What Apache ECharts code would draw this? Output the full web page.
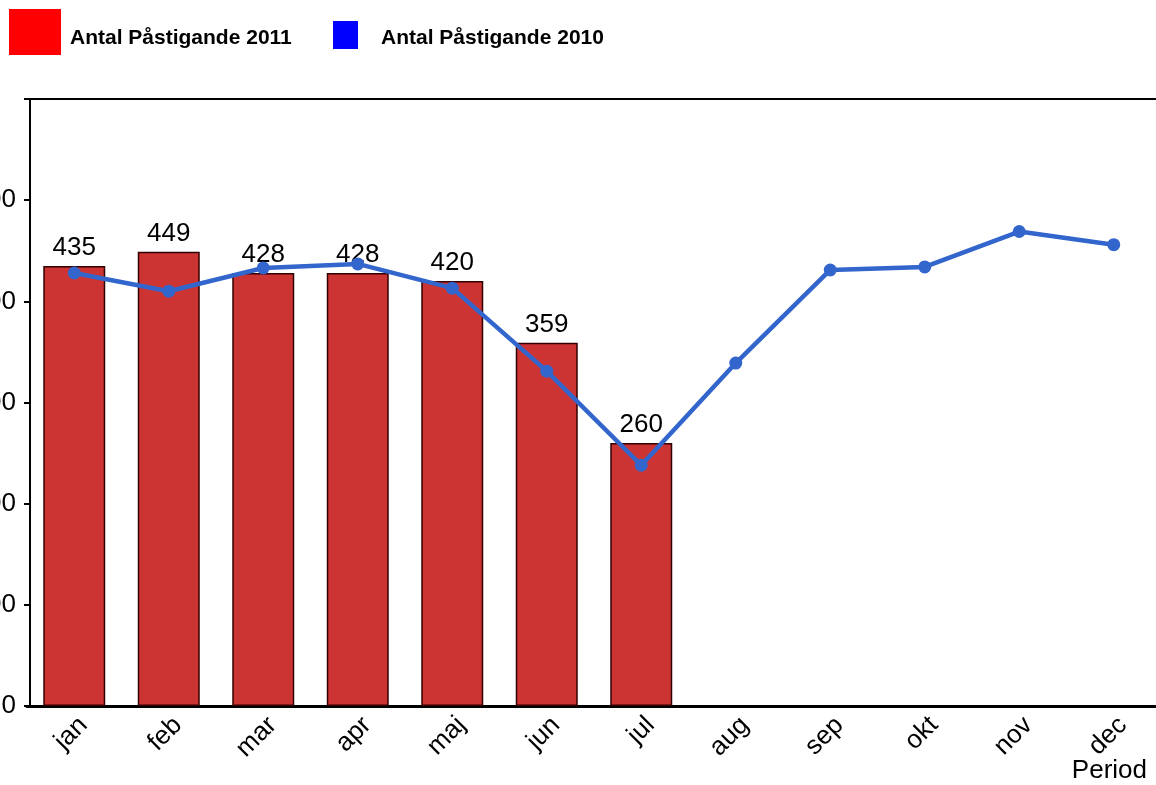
<!DOCTYPE html>
<html>
<head>
<meta charset="utf-8">
<title>Antal Påstigande</title>
<script src="https://cdn.jsdelivr.net/npm/echarts@6/dist/echarts.min.js"></script>
<style>
  html, body { margin: 0; padding: 0; background: #fff; }
  #chart { width: 1156px; height: 785px; }
</style>
</head>
<body>
<div id="chart"></div>
<script>
// månader
const months = ['jan', 'feb', 'mar', 'apr', 'maj', 'jun', 'jul', 'aug', 'sep', 'okt', 'nov', 'dec']
// påstigande 2011 (staplar, bara jan-jul)
const pass2011 = [435, 449, 428, 428, 420, 359, 260]
// påstigande 2010 (linje)
const pass2010 = [428, 410, 433, 437, 413, 331, 238, 339, 431, 434, 469, 456]
// y-axelns skala
const yMin = 0
const yMax = 600
const yStep = 100

const font = 'Liberation Sans, Arial, sans-serif'
const chart = echarts.init(document.getElementById('chart'))

const option = {
  animation: false,
  textStyle: { fontFamily: font },
  legend: [
    {
      data: ['Antal Påstigande 2011'],
      left: 9,
      top: 9,
      padding: 0,
      icon: 'rect',
      itemWidth: 52,
      itemHeight: 46,
      itemStyle: { color: '#FF0000', borderWidth: 0 },
      formatter: '{t|{name}}',
      textStyle: {
        rich: {
          t: { fontSize: 21, fontWeight: 'bold', color: '#000', fontFamily: font, padding: [12, 0, 0, 4] }
        }
      }
    },
    {
      data: ['Antal Påstigande 2010'],
      left: 333,
      top: 21,
      padding: 0,
      icon: 'rect',
      itemWidth: 25,
      itemHeight: 28,
      itemStyle: { color: '#0000FF', borderWidth: 0 },
      lineStyle: { opacity: 0 },
      formatter: '{t|{name}}',
      textStyle: {
        rich: {
          t: { fontSize: 21, fontWeight: 'bold', color: '#000', fontFamily: font, padding: [6, 0, 0, 18] }
        }
      }
    }
  ],
  grid: {
    left: 27,
    top: 99,
    width: 1134,
    bottom: 79,
    containLabel: false,
    outerBoundsMode: 'none'
  },
  xAxis: [
    {
      type: 'category',
      data: months,
      position: 'bottom',
      name: 'Period',
      nameLocation: 'end',
      nameGap: -14,
      nameMoveOverlap: false,
      nameTextStyle: {
        fontSize: 26,
        color: '#000',
        fontFamily: font,
        align: 'right',
        verticalAlign: 'top',
        padding: [52, 0, 0, 0]
      },
      axisLine: { show: true, lineStyle: { color: '#000', width: 3 } },
      axisTick: { show: false },
      axisLabel: {
        interval: 0,
        rotate: 45,
        margin: 6,
        verticalAlign: 'top',
        fontSize: 26,
        color: '#000',
        fontFamily: font
      }
    },
    {
      type: 'category',
      data: months,
      position: 'top',
      axisLine: { show: true, lineStyle: { color: '#000', width: 2 } },
      axisTick: { show: false },
      axisLabel: { show: false }
    }
  ],
  yAxis: {
    type: 'value',
    min: yMin,
    max: yMax,
    interval: yStep,
    offset: -3,
    splitLine: { show: false },
    axisLine: { show: true, lineStyle: { color: '#000', width: 2 } },
    axisTick: { show: true, length: 6, lineStyle: { color: '#000', width: 2 } },
    axisLabel: {
      margin: 14,
      fontSize: 26,
      color: '#000',
      fontFamily: font,
      formatter: function (v) { return v === yMax ? '' : v }
    }
  },
  series: [
    {
      name: 'Antal Påstigande 2011',
      type: 'bar',
      data: pass2011,
      barWidth: 62,
      itemStyle: { color: '#CC3333', borderColor: '#330000', borderWidth: 1.5 },
      label: {
        show: true,
        position: 'top',
        distance: 5,
        fontSize: 26,
        color: '#000',
        fontFamily: font
      }
    },
    {
      name: 'Antal Påstigande 2010',
      type: 'line',
      data: pass2010,
      z: 5,
      symbol: 'circle',
      symbolSize: 13,
      lineStyle: { color: '#3366CC', width: 4.5 },
      itemStyle: { color: '#3366CC' }
    }
  ]
}

chart.setOption(option)
</script>
</body>
</html>
